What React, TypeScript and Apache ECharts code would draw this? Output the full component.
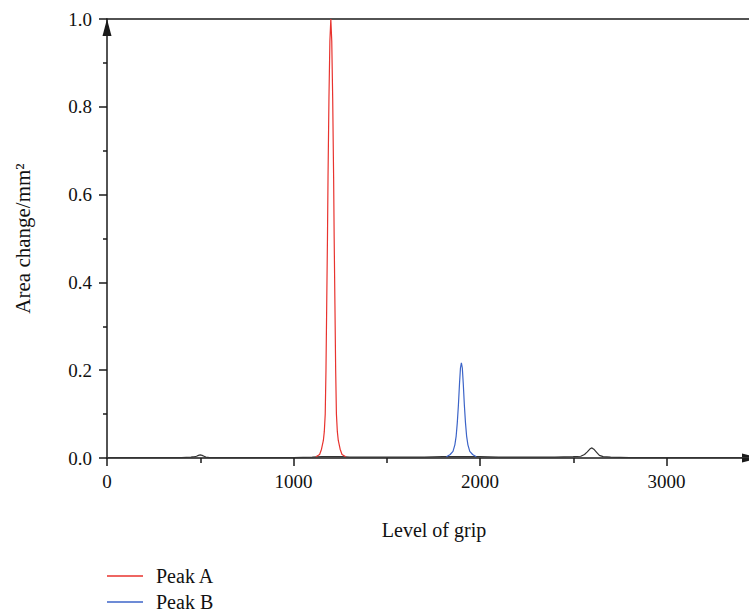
import React, { useEffect, useRef } from "react";
import * as echarts from "echarts";

// Baseline trace (black)
const baseX = [0, 100, 200, 300, 400, 450, 470, 480, 490, 500, 510, 520, 530, 550, 600, 700, 800, 900, 1000, 1100, 1150, 1260, 1300, 1400, 1500, 1600, 1700, 1800, 1820, 1975, 2000, 2100, 2200, 2300, 2400, 2500, 2540, 2560, 2575, 2590, 2600, 2610, 2625, 2640, 2660, 2700, 2800, 2900, 3000, 3100, 3200, 3300, 3400, 3442];
const baseY = [0.001, 0.001, 0.001, 0.001, 0.001, 0.002, 0.003, 0.004, 0.006, 0.007, 0.006, 0.004, 0.002, 0.001, 0.001, 0.001, 0.001, 0.001, 0.001, 0.002, 0.003, 0.003, 0.002, 0.002, 0.002, 0.002, 0.002, 0.003, 0.003, 0.003, 0.003, 0.002, 0.002, 0.002, 0.002, 0.003, 0.004, 0.008, 0.014, 0.021, 0.023, 0.02, 0.013, 0.006, 0.003, 0.002, 0.001, 0.001, 0.001, 0.001, 0.001, 0.001, 0.001, 0.001];

// Peak A (red)
const peakAX = [1120, 1140, 1150, 1160, 1165, 1170, 1174, 1178, 1182, 1185, 1190, 1195, 1200, 1205, 1210, 1215, 1218, 1222, 1226, 1230, 1235, 1240, 1250, 1260, 1280];
const peakAY = [0.003, 0.008, 0.02, 0.04, 0.06, 0.1, 0.2, 0.35, 0.5, 0.64, 0.82, 0.95, 1.0, 0.95, 0.82, 0.64, 0.5, 0.35, 0.2, 0.1, 0.06, 0.04, 0.02, 0.008, 0.003];

// Peak B (blue)
const peakBX = [1820, 1840, 1855, 1865, 1872, 1878, 1884, 1890, 1895, 1900, 1905, 1910, 1916, 1922, 1928, 1935, 1945, 1960, 1980];
const peakBY = [0.003, 0.008, 0.015, 0.03, 0.05, 0.08, 0.12, 0.17, 0.205, 0.217, 0.205, 0.17, 0.12, 0.08, 0.05, 0.03, 0.015, 0.008, 0.003];

const X_MAX = 3442;
const xMajorTicks = [0, 1000, 2000, 3000];
const xMinorTicks = [500, 1500, 2500];
const seriesNames = ["Peak A", "Peak B"];

const FONT = "'Liberation Serif', 'DejaVu Serif', serif";
const AXIS_COLOR = "#1a1a1a";

const pairs = (xs: number[], ys: number[]) => xs.map((x, i) => [x, ys[i]]);

export default function App() {
  const ref = useRef<HTMLDivElement>(null);
  useEffect(() => {
    document.body.style.margin = "0";
    const chart = echarts.init(ref.current!, null, { renderer: "svg" });
    const lineAxis = { show: true, lineStyle: { color: AXIS_COLOR, width: 1.5 } };
    const legendBase = {
      orient: "horizontal",
      left: 107,
      padding: 0,
      icon: "rect",
      itemWidth: 36,
      itemHeight: 1.3,
      textStyle: { fontFamily: FONT, fontSize: 20, color: "#111", padding: [0, 0, 0, 8], lineHeight: 20 },
    };
    chart.setOption({
      animation: false,
      backgroundColor: "#ffffff",
      textStyle: { fontFamily: FONT },
      grid: { left: 107, right: 0, top: 19, bottom: 156, containLabel: false },
      xAxis: [
        {
          type: "value",
          position: "bottom",
          min: 0,
          max: X_MAX,
          interval: 500,
          name: "Level of grip",
          nameLocation: "middle",
          nameGap: 62,
          nameTextStyle: { fontFamily: FONT, fontSize: 20, color: "#111", padding: [0, 0, 0, 12] },
          axisLine: {
            ...lineAxis,
            symbol: ["none", "triangle"],
            symbolSize: [9, 17],
            symbolOffset: [0, 1.5],
          },
          axisTick: { show: true, length: 8, customValues: xMajorTicks, lineStyle: { color: AXIS_COLOR, width: 1.5 } },
          axisLabel: {
            customValues: xMajorTicks,
            margin: 14,
            fontFamily: FONT,
            fontSize: 19,
            color: "#111",
            formatter: (v: number) => String(v),
          },
          splitLine: { show: false },
        },
        {
          type: "value",
          position: "bottom",
          min: 0,
          max: X_MAX,
          interval: 500,
          axisLine: { show: false },
          axisTick: { show: true, length: 5, customValues: xMinorTicks, lineStyle: { color: AXIS_COLOR, width: 1.5 } },
          axisLabel: { show: false },
          splitLine: { show: false },
        },
        {
          type: "value",
          position: "top",
          min: 0,
          max: X_MAX,
          axisLine: lineAxis,
          axisTick: { show: false },
          axisLabel: { show: false },
          splitLine: { show: false },
        },
      ],
      yAxis: {
        type: "value",
        min: 0,
        max: 1,
        interval: 0.2,
        name: "Area change/mm²",
        nameLocation: "middle",
        nameGap: 74,
        nameTextStyle: { fontFamily: FONT, fontSize: 21, color: "#111" },
        axisLine: {
          ...lineAxis,
          symbol: ["none", "triangle"],
          symbolSize: [9, 17],
          symbolOffset: [0, -8.5],
        },
        axisTick: { show: true, length: 8, lineStyle: { color: AXIS_COLOR, width: 1.5 } },
        minorTick: { show: true, splitNumber: 2, length: 4, lineStyle: { color: AXIS_COLOR, width: 1.5 } },
        axisLabel: {
          margin: 15,
          fontFamily: FONT,
          fontSize: 19,
          color: "#111",
          formatter: (v: number) => v.toFixed(1),
        },
        splitLine: { show: false },
        minorSplitLine: { show: false },
      },
      legend: [
        { ...legendBase, data: [seriesNames[0]], top: 566 },
        { ...legendBase, data: [seriesNames[1]], top: 592 },
      ],
      series: [
        {
          name: "Baseline",
          type: "line",
          xAxisIndex: 0,
          data: pairs(baseX, baseY),
          symbol: "none",
          lineStyle: { color: "#333333", width: 1.2 },
          itemStyle: { color: "#333333" },
          z: 2,
        },
        {
          name: seriesNames[0],
          type: "line",
          xAxisIndex: 0,
          data: pairs(peakAX, peakAY),
          symbol: "none",
          lineStyle: { color: "#e8332e", width: 1.2 },
          itemStyle: { color: "#e8332e" },
          z: 3,
        },
        {
          name: seriesNames[1],
          type: "line",
          xAxisIndex: 0,
          data: pairs(peakBX, peakBY),
          symbol: "none",
          lineStyle: { color: "#3c64c8", width: 1.2 },
          itemStyle: { color: "#3c64c8" },
          z: 3,
        },
      ],
    });
    return () => chart.dispose();
  }, []);
  return (
    <div
      ref={ref}
      style={{ position: "absolute", left: 0, top: 0, width: 749, height: 614, overflow: "hidden" }}
    />
  );
}
